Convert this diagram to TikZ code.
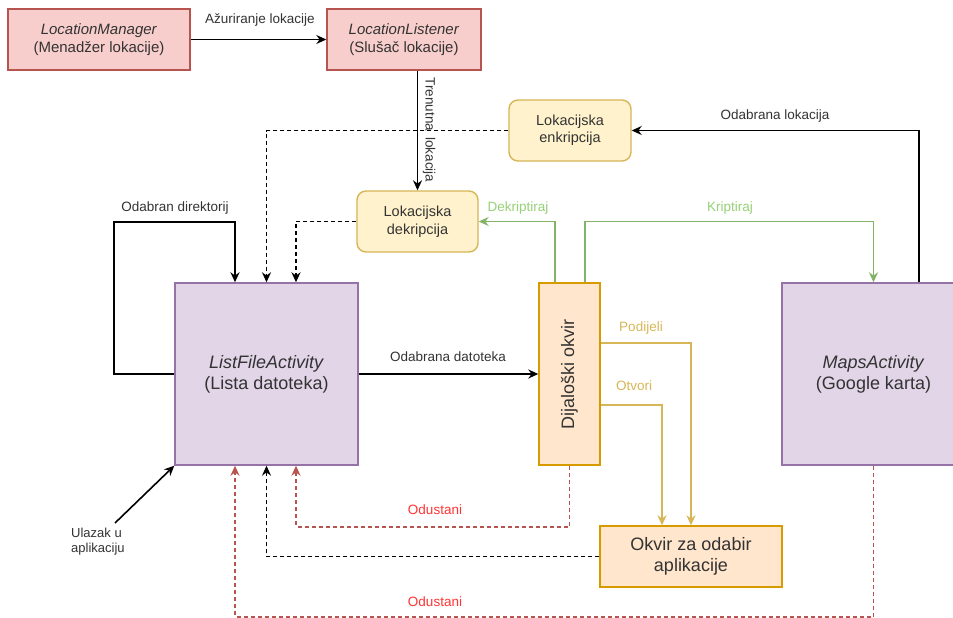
\documentclass[tikz,border=0pt]{standalone}
\usepackage{fontspec}
\setmainfont{Liberation Sans}
\usetikzlibrary{arrows.meta,calc}
\definecolor{redfill}{HTML}{F8CECC}
\definecolor{redline}{HTML}{B85450}
\definecolor{yelfill}{HTML}{FFF2CC}
\definecolor{yelline}{HTML}{D6B656}
\definecolor{purfill}{HTML}{E1D5E7}
\definecolor{purline}{HTML}{9673A6}
\definecolor{orfill}{HTML}{FFE6CC}
\definecolor{orline}{HTML}{D79B00}
\definecolor{grline}{HTML}{82B366}
\definecolor{grtext}{HTML}{97D077}
\definecolor{redtext}{HTML}{FF3333}
\definecolor{txt}{HTML}{333333}
\tikzset{
  box/.style={draw, line width=1.4pt, inner sep=0pt, align=center, text=txt},
  redbox/.style={box, fill=redfill, draw=redline, minimum height=61pt, font=\fontsize{15}{17.5}\selectfont},
  yelbox/.style={box, fill=yelfill, draw=yelline, rounded corners=9pt, minimum width=121pt, minimum height=61pt, font=\fontsize{14.5}{17.5}\selectfont},
  purbox/.style={box, fill=purfill, draw=purline, minimum width=183pt, minimum height=182pt, font=\fontsize{18}{21}\selectfont},
  orbox/.style={box, fill=orfill, draw=orline, font=\fontsize{18}{21}\selectfont},
  conn/.style={line width=1.6pt, -{Stealth[length=10pt,width=9pt]}},
  dsh/.style={dash pattern=on 4pt off 3pt},
  lbl/.style={font=\fontsize{13.5}{15}\selectfont, text=txt, inner sep=1pt},
}
\begin{document}
\begin{tikzpicture}[x=1pt,y=-1pt]
\useasboundingbox (0,0) rectangle (953,618);
% nodes
\node[redbox, minimum width=182pt] (LM) at (99,39.5) {\textit{LocationManager}\\(Menadžer lokacije)};
\node[redbox, minimum width=154pt] (LL) at (404,39.5) {\textit{LocationListener}\\(Slušač lokacije)};
\node[yelbox, minimum width=122pt] (Enc) at (570,130.5) {Lokacijska\\enkripcija};
\node[yelbox] (Dec) at (417.5,221.5) {Lokacijska\\dekripcija};
\node[purbox] (LF) at (266.5,374) {\textit{ListFileActivity}\\(Lista datoteka)};
\node[purbox] (Maps) at (873.5,374) {\textit{MapsActivity}\\(Google karta)};
\node[orbox, minimum width=61pt, minimum height=182pt] (DO) at (569.5,374) {};
\node[rotate=90, font=\fontsize{18}{21}\selectfont, text=txt] at (DO.center) {Dijaloški okvir};
\node[orbox, minimum width=182pt, minimum height=61pt] (OK) at (691,556.5) {Okvir za odabir\\aplikacije};
\coordinate (entry) at (115,523);
\coordinate (loop) at (114,222);

% connectors
\draw[conn] (LM.east) -- (LL.west);
\node[lbl] at (260,20) {Ažuriranje lokacije};

\draw[conn] (Dec.north |- LL.south) -- (Dec.north);
\node[lbl, rotate=-90] at (429,130) {Trenutna\hspace{6pt}lokacija};

\draw[conn, dsh] (Enc.west) -| (LF.north);
\draw[conn, dsh] (Dec.west) -| ([xshift=29.5pt]LF.north);

\draw[conn] (LF.west) -| (loop) -| ([xshift=-31.5pt]LF.north);
\node[lbl] at (175,208) {Odabran direktorij};

\draw[conn] (LF.east) -- (DO.west);
\node[lbl] at (448,357) {Odabrana datoteka};

\draw[conn, grline] ([xshift=-14.5pt]DO.north) |- (Dec.east);
\node[lbl, text=grtext] at (518,208) {Dekriptiraj};

\draw[conn, grline] ([xshift=15.5pt]DO.north) -- ++(0,-61) -| (Maps.north);
\node[lbl, text=grtext] at (730,208) {Kriptiraj};

\draw[conn] ([xshift=45.5pt]Maps.north) |- (Enc.east);
\node[lbl] at (775,116) {Odabrana lokacija};

\draw[conn, yelline] ([yshift=31pt]DO.east) -| (OK.north);
\node[lbl, text=yelline] at (641,328) {Podijeli};
\draw[conn, yelline] ([yshift=-31pt]DO.east) -| ([xshift=-29pt]OK.north);
\node[lbl, text=yelline] at (634,386) {Otvori};

\draw[conn, dsh, redline] (DO.south) -- ++(0,61) -| ([xshift=29.5pt]LF.south);
\node[lbl, text=redtext] at (435,510) {Odustani};

\draw[conn, dsh] (OK.west) -| (LF.south);

\draw[conn, dsh, redline] (Maps.south) -- ++(0,151) -| ([xshift=-31.5pt]LF.south);
\node[lbl, text=redtext] at (435,602) {Odustani};

\draw[conn] (entry) -- (LF.south west);
\node[lbl, anchor=north west, align=left, font=\fontsize{13}{15}\selectfont] at (70,527) {Ulazak u\\aplikaciju};
\end{tikzpicture}
\end{document}
